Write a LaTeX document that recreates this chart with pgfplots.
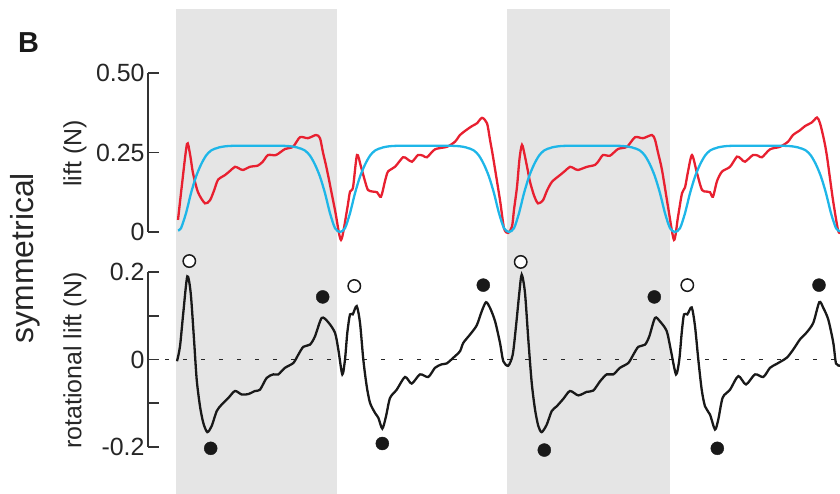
\documentclass[border=0pt]{standalone}
\usepackage{fontspec}
\setmainfont{Liberation Sans}
\usepackage{pgfplots}
\pgfplotsset{compat=1.18}
\definecolor{liftred}{RGB}{232,32,48}
\definecolor{liftblue}{RGB}{30,182,232}
\definecolor{shade}{RGB}{229,229,229}
\begin{document}
\begin{tikzpicture}
\useasboundingbox (0,0) rectangle (840bp,494bp);
\pgfplotsset{
  panel/.style={scale only axis, width=692bp, xmin=148, xmax=840,
    axis x line=none, axis y line*=left, clip=false, tick align=inside,
    ytick pos=left, major tick length=11bp, minor tick length=11bp,
    axis line style={line width=1.5bp, black!80},
    every tick/.style={line width=1.5bp, black!80},
    minor tick style={line width=1.5bp, black!80},
    tick label style={font=\fontsize{25}{29}\selectfont, text=black!85},
    /pgf/number format/assume math mode=true, anchor=south west},
}
% background shading
\begin{axis}[scale only axis, width=692bp, height=485bp, at={(148bp,0bp)}, anchor=south west,
  xmin=148, xmax=840, ymin=0, ymax=1, hide axis]
\addplot[fill=shade, draw=none] coordinates {(176,1)(337,1)} \closedcycle;
\addplot[fill=shade, draw=none] coordinates {(507,1)(670,1)} \closedcycle;
\end{axis}
% top panel: lift
\begin{axis}[panel, height=159bp, at={(148bp,262bp)}, ymin=0, ymax=0.5,
  ytick={0,0.25,0.5}, yticklabels={0,0.25,0.50}]
\addplot[liftred, line width=2.3bp, smooth, tension=0.45] coordinates {
(178,0.038)(182,0.15)(187,0.277)(190,0.245)(193,0.185)(198,0.125)(205,0.090)(210,0.100)
(214,0.130)(218,0.164)(225,0.179)(230,0.192)(235,0.205)(239,0.200)(243,0.195)(250,0.205)
(258,0.209)(263,0.222)(268,0.242)(276,0.242)(285,0.261)(293,0.268)(300,0.298)(308,0.295)
(316,0.305)(320,0.295)(323,0.25)(327,0.195)(335,0.069)(341,-0.025)(347,0.069)(350,0.127)
(353,0.140)(357,0.242)(361,0.205)(365,0.160)(368,0.132)(373,0.127)(377,0.125)(381,0.111)
(385,0.160)(388,0.190)(395,0.205)(403,0.235)(407,0.230)(412,0.221)(418,0.242)(423,0.240)
(427,0.235)(435,0.260)(447,0.268)(455,0.284)(460,0.305)(466,0.320)(472,0.333)(477,0.342)
(482,0.359)(487,0.342)(490,0.29)(493,0.237)(500,0.100)(504,0.012)(508,-0.003)
(512,0.017)(514,0.07)(517,0.142)(519.5,0.230)(522,0.274)(525,0.237)(528,0.190)(530,0.158)
(534,0.115)(538,0.090)(543,0.100)(547,0.130)(552,0.158)(560,0.179)(565,0.192)(570,0.205)
(574,0.200)(578,0.195)(587,0.205)(595,0.211)(599,0.225)(603,0.242)(610,0.240)(618,0.261)
(627,0.268)(635,0.298)(643,0.295)(652,0.305)(655,0.290)(658,0.25)(662,0.195)(668,0.080)
(674,-0.025)(678,0.048)(682,0.122)(685,0.140)(688,0.190)(692,0.242)(697,0.185)(702,0.132)
(707,0.127)(710,0.125)(713,0.111)(717,0.160)(722,0.190)(730,0.205)(737,0.237)(741,0.230)
(745,0.221)(753,0.242)(758,0.240)(762,0.235)(770,0.260)(780,0.268)(788,0.284)(793,0.305)
(800,0.320)(805,0.333)(812,0.345)(817,0.360)(820,0.342)(824,0.29)(827,0.237)(833,0.100)
(838,0.006)(840,-0.002)};
\addplot[liftblue, line width=2.3bp, smooth, tension=0.45] coordinates {
(178,0.005)(181,0.012)(186,0.059)(191,0.122)(196,0.174)(201,0.212)(206,0.240)(211,0.256)
(219,0.266)(233,0.271)(283,0.271)(297,0.266)(305,0.256)(310,0.240)(315,0.212)(320,0.174)
(325,0.122)(330,0.059)(335,0.012)(340,0.000)(345,0.012)(350,0.059)(355,0.122)(360,0.174)
(365,0.212)(370,0.240)(375,0.256)(383,0.266)(397,0.271)(452,0.271)(466,0.266)(474,0.256)
(479,0.240)(484,0.212)(489,0.174)(494,0.122)(499,0.059)(504,0.012)(509,0.000)(514,0.012)
(519,0.059)(524,0.122)(529,0.174)(534,0.212)(539,0.240)(544,0.256)(552,0.266)(566,0.271)
(618,0.271)(632,0.266)(640,0.256)(645,0.240)(650,0.212)(655,0.174)(660,0.122)(665,0.059)
(670,0.012)(675,0.000)(680,0.012)(685,0.059)(690,0.122)(695,0.174)(700,0.212)(705,0.240)
(710,0.256)(718,0.266)(732,0.271)(784,0.271)(798,0.266)(806,0.256)(811,0.240)(816,0.212)
(821,0.174)(826,0.122)(831,0.059)(836,0.012)(840,0.002)};
\end{axis}
% bottom panel: rotational lift
\begin{axis}[panel, height=175bp, at={(148bp,47bp)}, ymin=-0.2, ymax=0.2,
  ytick={-0.2,0,0.2}, yticklabels={-0.2,0,0.2}, minor ytick={-0.1,0.1}]
\addplot[black!85, line width=1.8bp, dash pattern=on 4bp off 14bp] coordinates {(165,0)(840,0)};
\addplot[black!90, line width=2.3bp, smooth, tension=0.45] coordinates {
(177,-0.004)(180,0.030)(183.3,0.107)(187.3,0.190)(190.7,0.152)(194,0.046)(196.7,-0.046)
(200,-0.107)(203.3,-0.145)(207.3,-0.166)(211.7,-0.152)(216.7,-0.118)(221.7,-0.103)
(228.3,-0.088)(235,-0.072)(241.7,-0.080)(248.3,-0.079)(255,-0.072)(260,-0.069)
(266.7,-0.042)(273.3,-0.034)(278.3,-0.034)(285,-0.019)(293.3,-0.008)(298.3,0.011)
(303.3,0.029)(310,0.034)(315,0.053)(321.7,0.095)(328.3,0.085)(335,0.061)(338.3,0.023)
(342.3,-0.034)(345,0.000)(347.3,0.061)(350,0.103)(352.7,0.103)(356.7,0.122)(360,0.084)
(363.3,0.000)(366.7,-0.061)(370,-0.099)(375,-0.122)(378.3,-0.133)(382.3,-0.158)
(386,-0.130)(390,-0.088)(396.7,-0.069)(405,-0.040)(411.7,-0.055)(420,-0.034)
(428.3,-0.040)(435,-0.019)(441.7,-0.011)(446.7,-0.009)(453.3,0.004)(460,0.019)
(463.3,0.038)(470,0.057)(476.7,0.078)(481.7,0.110)(486,0.131)(490,0.118)(495,0.088)
(500,0.038)(503.3,-0.004)(508.3,-0.014)(512.7,0.011)(516,0.076)(519.3,0.152)(521.7,0.194)
(525,0.152)(528.3,0.046)(531.7,-0.053)(535,-0.114)(538.3,-0.152)(541.7,-0.166)
(546.7,-0.149)(551.7,-0.118)(556.7,-0.107)(563.3,-0.090)(570,-0.072)(578.3,-0.082)
(586.7,-0.074)(593.3,-0.071)(600,-0.050)(606.7,-0.034)(613.3,-0.034)(620,-0.019)
(628.3,-0.008)(633.3,0.011)(638.3,0.029)(645,0.034)(649.3,0.053)(655,0.095)(660,0.087)
(666.7,0.065)(670.7,0.023)(676,-0.034)(679.3,0.000)(681.7,0.061)(684,0.103)(687.3,0.103)
(691.7,0.119)(695,0.076)(698.3,0.000)(701.7,-0.069)(705,-0.107)(710,-0.126)(715,-0.160)
(718.3,-0.137)(722.7,-0.087)(730,-0.069)(738.3,-0.038)(746,-0.057)(755,-0.034)
(763.3,-0.040)(770,-0.019)(776.7,-0.010)(786.7,0.004)(793.3,0.023)(800,0.046)
(806.7,0.062)(813.3,0.084)(819.3,0.131)(823.3,0.118)(828.3,0.091)(833.3,0.038)
(836,-0.009)(840,-0.014)};
\addplot[only marks, mark=*, mark size=6.2bp, mark options={fill=white, draw=black!90, line width=1.5bp}]
coordinates {(189.3,0.225)(354.3,0.168)(520.7,0.223)(687.3,0.170)};
\addplot[only marks, mark=*, mark size=6.5bp, mark options={fill=black!90, draw=black!90}]
coordinates {(210.7,-0.203)(322.7,0.143)(382.3,-0.192)(483.3,0.170)(544.3,-0.207)(654.3,0.143)(717.3,-0.203)(819,0.170)};
\end{axis}
% labels
\node[rotate=90, font=\fontsize{25}{29}\selectfont, text=black!85] at (75bp,340.5bp) {lift (N)};
\node[rotate=90, font=\fontsize{25}{29}\selectfont, text=black!85] at (75bp,133.5bp) {rotational lift (N)};
\node[rotate=90, anchor=base, inner sep=0pt, font=\fontsize{32}{38}\selectfont, text=black!85] at (33bp,236bp) {symmetrical};
\node[anchor=base west, inner sep=0pt, font=\bfseries\fontsize{29}{34}\selectfont, text=black!90] at (18bp,441bp) {B};
\end{tikzpicture}
\end{document}
